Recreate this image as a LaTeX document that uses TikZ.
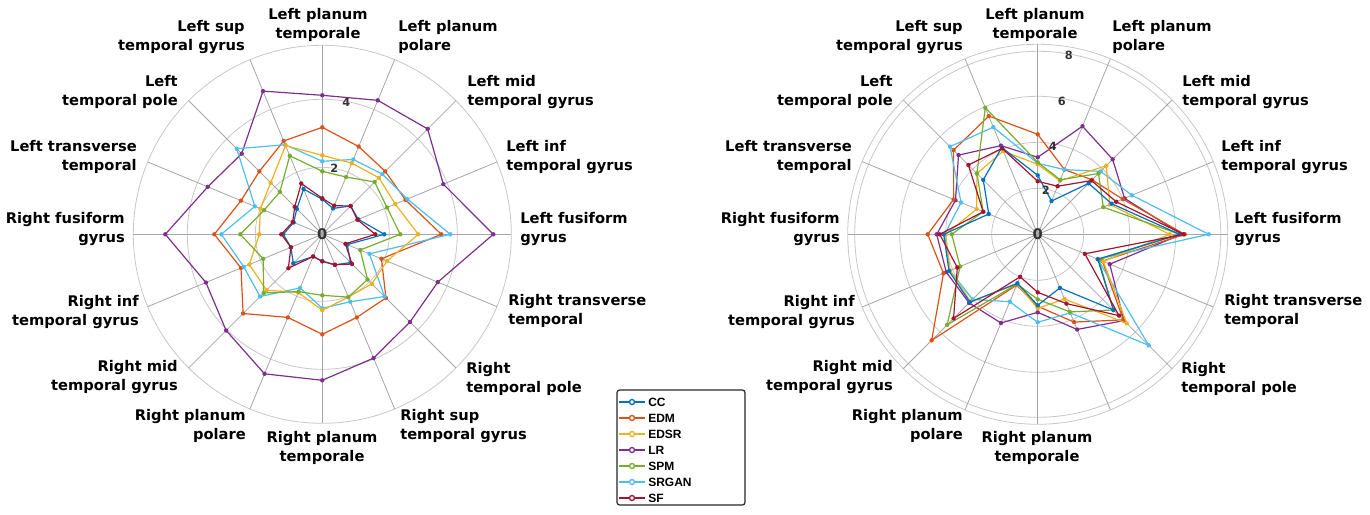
\documentclass[tikz,border=0pt]{standalone}
\usepackage{fontspec}
\usetikzlibrary{calc}
\setmainfont{DejaVu Sans}
\newfontfamily\legfont{Liberation Sans}
\begin{document}
\definecolor{cCC}{HTML}{0072BD}
\definecolor{cEDM}{HTML}{D95319}
\definecolor{cEDSR}{HTML}{EDB120}
\definecolor{cLR}{HTML}{7E2F8E}
\definecolor{cSPM}{HTML}{77AC30}
\definecolor{cSRGAN}{HTML}{4DBEEE}
\definecolor{cSF}{HTML}{A2142F}
\newcommand\rpoly[2]{%
  \foreach \r [count=\i from 0] in {#2} {\coordinate (p\i) at (\i*22.5:\r);}
  \draw[#1, line width=0.9pt, line join=round] (p0) \foreach \i in {1,...,15}{ -- (p\i)} -- cycle;
  \foreach \i in {0,...,15} {\fill[#1] (p\i) circle (2.2);}
}
\begin{tikzpicture}[x=0.75pt,y=-0.75pt,
  lab/.style={font=\fontsize{11}{14.2}\selectfont\bfseries, inner sep=0pt},
  ring/.style={draw=black!22, line width=0.6pt},
  spoke/.style={draw=black!35, line width=0.6pt},
  tick/.style={font=\fontsize{8.5}{10}\selectfont\bfseries, text=black!80, inner sep=0pt},
  leg/.style={font=\legfont\fontsize{9}{10}\selectfont\bfseries, anchor=west, inner sep=0pt}]
\useasboundingbox (0,0) rectangle (1370,514);
% ---------- left chart ----------
\begin{scope}[shift={(322.3,234.3)}, y=0.75pt]
  \foreach \rr in {67,135,189} \draw[ring] (0,0) circle (\rr);
  \foreach \a in {0,22.5,...,337.5} \draw[spoke] (0,0) -- (\a:189);
  \rpoly{cLR}{171,131,149,145,139,155,114,124,157,126,136,151,146,134,124,125}
  \rpoly{cEDM}{119,90,89,95,107,101,89,88,108,88,112,90,100,90,90,64}
  \rpoly{cSRGAN}{128,92,85,81,73,97,121,73,101,85,88,58,74,73,88,51}
  \rpoly{cEDSR}{96,79,80,77,79,96,73,67,63,79,79,63,76,68,70,70}
  \rpoly{cSPM}{78,70,74,62,63,85,60,63,82,64,83,62,61,68,64,41}
  \rpoly{cCC}{62,39,40,28,35,49,36,31,39,34,41,24,27,33,40,27}
  \rpoly{cSF}{53,38,40,31,36,55,39,32,41,34,48,24,27,33,42,25}
  \node[tick] (t2a) at (12,66) {2};
  \node[tick] (t4a) at (24,132) {4};
  \node[tick, font=\fontsize{11}{12}\selectfont\bfseries] (t0a) at (0,0) {0};
\end{scope}
\node[lab, align=center] (a1) at (318,25) {Left planum\\temporale};
\node[lab, align=left, anchor=west] (a2) at (398,37) {Left planum\\polare};
\node[lab, align=left, anchor=west] (a3) at (467,92) {Left mid\\temporal gyrus};
\node[lab, align=left, anchor=west] (a4) at (506,157) {Left inf\\temporal gyrus};
\node[lab, align=left, anchor=west] (a5) at (520,229) {Left fusiform\\gyrus};
\node[lab, align=left, anchor=west] (a6) at (508,311) {Right transverse\\temporal};
\node[lab, align=left, anchor=west] (a7) at (466,379) {Right\\temporal pole};
\node[lab, align=left, anchor=west] (a8) at (400,426) {Right sup\\temporal gyrus};
\node[lab, align=center] (a9) at (322,448) {Right planum\\temporale};
\node[lab, align=right, anchor=east] (a10) at (246,426) {Right planum\\polare};
\node[lab, align=right, anchor=east] (a11) at (178,377) {Right mid\\temporal gyrus};
\node[lab, align=right, anchor=east] (a12) at (139,312) {Right inf\\temporal gyrus};
\node[lab, align=right, anchor=east] (a13) at (125,229) {Right fusiform\\gyrus};
\node[lab, align=right, anchor=east] (a14) at (137,157) {Left transverse\\temporal};
\node[lab, align=right, anchor=east] (a15) at (178,92) {Left\\temporal pole};
\node[lab, align=right, anchor=east] (a16) at (245,37) {Left sup\\temporal gyrus};
% ---------- right chart ----------
\begin{scope}[shift={(1037.7,234.3)}, y=0.75pt]
  \foreach \rr in {46,92,138,183,190} \draw[ring] (0,0) circle (\rr);
  \foreach \a in {0,22.5,...,337.5} \draw[spoke] (0,0) -- (\a:190);
  \rpoly{cLR}{144,94,106,117,77,96,112,89,101,99,97,96,78,103,122,78}
  \rpoly{cEDM}{147,92,77,70,100,128,119,91,110,102,150,55,72,95,121,70}
  \rpoly{cSRGAN}{171,102,89,70,71,116,124,83,93,95,92,73,88,85,157,65}
  \rpoly{cEDSR}{132,78,97,58,70,90,86,66,92,95,95,54,74,70,126,71}
  \rpoly{cSPM}{142,71,86,59,72,137,86,59,86,84,128,54,65,84,107,66}
  \rpoly{cCC}{142,80,72,36,59,94,77,53,94,96,96,53,71,58,107,65}
  \rpoly{cSF}{146,85,76,52,53,93,98,59,98,87,119,46,58,75,115,51}
  \node[tick] (t2b) at (8,44) {2};
  \node[tick] (t4b) at (15,88) {4};
  \node[tick] (t6b) at (24,133) {6};
  \node[tick] (t8b) at (31,179) {8};
  \node[tick, font=\fontsize{11}{12}\selectfont\bfseries] (t0b) at (0,0) {0};
\end{scope}
\node[lab, align=center] (b1) at (1035,25) {Left planum\\temporale};
\node[lab, align=left, anchor=west] (b2) at (1112,37) {Left planum\\polare};
\node[lab, align=left, anchor=west] (b3) at (1182,92) {Left mid\\temporal gyrus};
\node[lab, align=left, anchor=west] (b4) at (1221,157) {Left inf\\temporal gyrus};
\node[lab, align=left, anchor=west] (b5) at (1234,229) {Left fusiform\\gyrus};
\node[lab, align=left, anchor=west] (b6) at (1224,311) {Right transverse\\temporal};
\node[lab, align=left, anchor=west] (b7) at (1181,379) {Right\\temporal pole};
\node[lab, align=center] (b9) at (1037,448) {Right planum\\temporale};
\node[lab, align=right, anchor=east] (b10) at (963,426) {Right planum\\polare};
\node[lab, align=right, anchor=east] (b11) at (893,377) {Right mid\\temporal gyrus};
\node[lab, align=right, anchor=east] (b12) at (855,312) {Right inf\\temporal gyrus};
\node[lab, align=right, anchor=east] (b13) at (840,229) {Right fusiform\\gyrus};
\node[lab, align=right, anchor=east] (b14) at (852,157) {Left transverse\\temporal};
\node[lab, align=right, anchor=east] (b15) at (893,92) {Left\\temporal pole};
\node[lab, align=right, anchor=east] (b16) at (963,37) {Left sup\\temporal gyrus};
% ---------- legend ----------
\draw[fill=white, draw=black!85, line width=0.9pt, rounded corners=2] (617,390) rectangle (745,505);
\foreach \c/\t [count=\k from 0] in {cCC/CC,cEDM/EDM,cEDSR/EDSR,cLR/LR,cSPM/SPM,cSRGAN/SRGAN,cSF/SF}{
  \coordinate (l\k) at (619,402+16*\k);
  \coordinate (r\k) at (645,402+16*\k);
  \draw[\c, line width=1.2pt] (l\k) -- (r\k);
  \draw[\c, line width=1pt, fill=white] ($(l\k)!0.5!(r\k)$) circle (2.5);
  \node[leg] (n\k) at (648,402+16*\k) {\t};
}
\end{tikzpicture}
\end{document}
